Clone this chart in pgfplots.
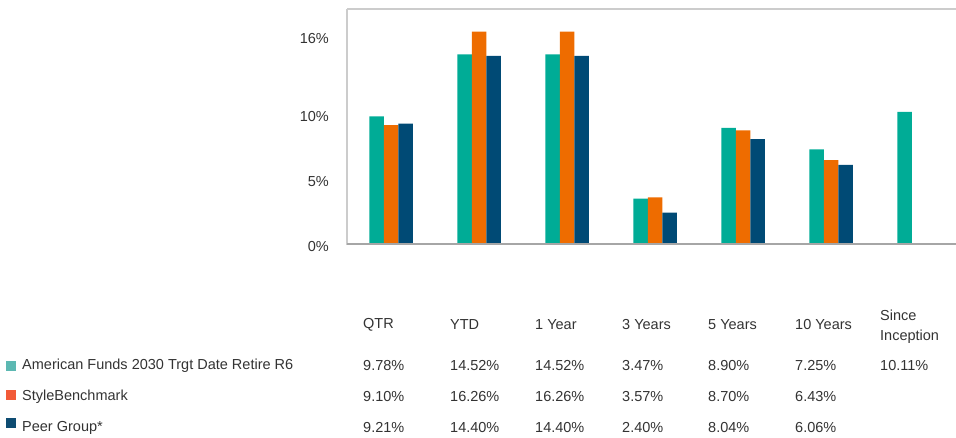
\documentclass[border=0pt]{standalone}
\usepackage{pgfplots}
\pgfplotsset{compat=1.18}
\usepackage{fontspec}
\setmainfont{Liberation Sans}
\definecolor{cA}{HTML}{00AC96}
\definecolor{cB}{HTML}{EE6C00}
\definecolor{cC}{HTML}{004A75}
\definecolor{lA}{HTML}{5CB8B2}
\definecolor{lB}{HTML}{F25A38}
\definecolor{lC}{HTML}{0E4C72}
\definecolor{txt}{HTML}{333333}
\begin{document}
\fontsize{14.5bp}{17bp}\selectfont
\begin{tikzpicture}[x=1bp,y=1bp]
\useasboundingbox (0,0) rectangle (956,438);
\begin{axis}[
  at={(347bp,194bp)}, anchor=south west,
  scale only axis, width=609bp, height=235bp,
  xmin=-0.5, xmax=6.42, ymin=0, ymax=18,
  ybar=0pt, bar width=14.5bp,
  axis line style={draw=none},
  clip=false,
  xtick=\empty,
  ytick={0,5,10,16},
  yticklabels={0\%,5\%,10\%,16\%},
  major tick length=0pt,
  tick style={draw=none},
  yticklabel style={anchor=east, inner sep=0pt, xshift=-18bp, yshift=-3bp, font=\fontsize{14.5bp}{17bp}\selectfont, text=txt},
]
\draw[color=black!20, line width=2bp] (rel axis cs:0,1) -- (rel axis cs:1,1);
\draw[color=black!20, line width=2bp] (rel axis cs:0,-0.005) -- (rel axis cs:0,1);
\addplot[fill=cA, draw=none] coordinates {(0,9.78) (1,14.52) (2,14.52) (3,3.47) (4,8.90) (5,7.25) (6,10.11)};
\addplot[fill=cB, draw=none] coordinates {(0,9.10) (1,16.26) (2,16.26) (3,3.57) (4,8.70) (5,6.43)};
\addplot[fill=cC, draw=none] coordinates {(0,9.21) (1,14.40) (2,14.40) (3,2.40) (4,8.04) (5,6.06)};
\draw[color=black!35, line width=2.5bp] (rel axis cs:0,0) -- (rel axis cs:1,0);
\end{axis}
\begin{scope}[every node/.style={anchor=west, inner sep=0pt, text=txt, font=\fontsize{14.5bp}{17bp}\selectfont}]
% headers
\node at (363,113) {QTR};
\node at (450,113) {YTD};
\node at (535,113) {1 Year};
\node at (622,113) {3 Years};
\node at (708,113) {5 Years};
\node at (795,113) {10 Years};
\node at (880,123) {Since};
\node at (880,101) {Inception};
% legend squares
\fill[lA] (6,67) rectangle (16,77);
\fill[lB] (6,38) rectangle (16,48);
\fill[lC] (6,10) rectangle (16,20);
% rows
\node at (22,72) {American Funds 2030 Trgt Date Retire R6};
\node at (22,41) {StyleBenchmark};
\node at (22,10) {Peer Group*};
\node at (363,72) {9.78\%};
\node at (450,72) {14.52\%};
\node at (535,72) {14.52\%};
\node at (622,72) {3.47\%};
\node at (708,72) {8.90\%};
\node at (795,72) {7.25\%};
\node at (880,72) {10.11\%};
\node at (363,41) {9.10\%};
\node at (450,41) {16.26\%};
\node at (535,41) {16.26\%};
\node at (622,41) {3.57\%};
\node at (708,41) {8.70\%};
\node at (795,41) {6.43\%};
\node at (363,10) {9.21\%};
\node at (450,10) {14.40\%};
\node at (535,10) {14.40\%};
\node at (622,10) {2.40\%};
\node at (708,10) {8.04\%};
\node at (795,10) {6.06\%};
\end{scope}
\end{tikzpicture}
\end{document}
